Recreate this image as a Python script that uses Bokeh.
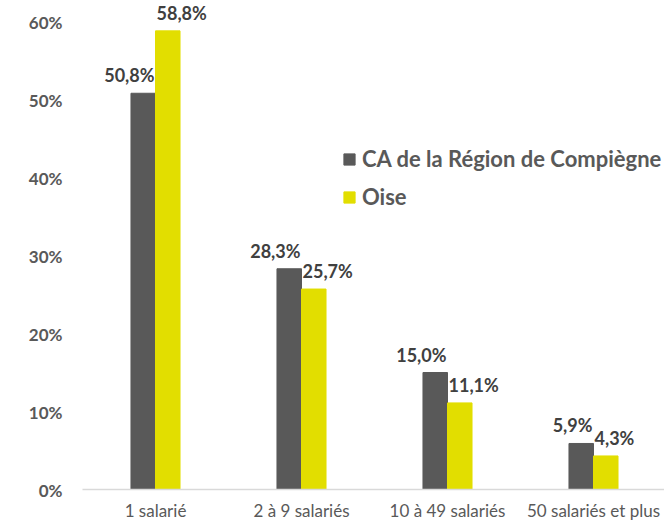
from bokeh.plotting import figure
from bokeh.models import Range1d, ColumnDataSource, LabelSet, Legend, LegendItem
from bokeh.core.properties import value
from bokeh.embed import file_html
from bokeh.resources import INLINE

categories = ["1 salarié", "2 à 9 salariés", "10 à 49 salariés", "50 salariés et plus"]
series_names = ["CA de la Région de Compiègne", "Oise"]
ca_values = [50.8, 28.3, 15.0, 5.9]
oise_values = [58.8, 25.7, 11.1, 4.3]
y_ticks = [0, 10, 20, 30, 40, 50, 60]

GREY = "#595959"
YELLOW = "#E2DE00"
FONT = "Lato"

# layout (pixels): plot area from x=82 to 664, baseline at y=489
PX_PER_CAT = 146
PX_PER_PCT = 7.8
W, H = 664, 523
LEFT, BOTTOM = 82, 34

BAR_W = 0.168
xc = [i + 0.5 for i in range(len(categories))]
x_end = (W - LEFT) / PX_PER_CAT

def fmt(v):
    return f"{v:.1f}".replace(".", ",") + "%"

src_ca = ColumnDataSource(dict(x=[c - BAR_W / 2 for c in xc], xl=xc, top=ca_values,
                               lab=[fmt(v) for v in ca_values]))
src_oise = ColumnDataSource(dict(x=[c + BAR_W / 2 for c in xc], xl=xc, top=oise_values,
                                 lab=[fmt(v) for v in oise_values]))
src_cat = ColumnDataSource(dict(x=xc, y=[0] * len(xc), lab=categories))
src_yt = ColumnDataSource(dict(x=[0] * len(y_ticks), y=y_ticks, lab=[f"{t}%" for t in y_ticks]))

p = figure(width=W, height=H, output_backend="svg", toolbar_location=None,
           x_range=Range1d(-LEFT / PX_PER_CAT, x_end),
           y_range=Range1d(-BOTTOM / PX_PER_PCT, (H - BOTTOM) / PX_PER_PCT),
           min_border_left=0, min_border_right=0, min_border_top=0, min_border_bottom=0)
p.outline_line_color = None
p.xgrid.visible = False
p.ygrid.visible = False
p.xaxis.visible = False
p.yaxis.visible = False
p.background_fill_color = "white"

r1 = p.vbar(x="x", top="top", width=BAR_W, source=src_ca, fill_color=GREY, line_color=GREY)
r2 = p.vbar(x="x", top="top", width=BAR_W, source=src_oise, fill_color=YELLOW, line_color=YELLOW)

# category axis line
p.segment(x0=[0], y0=[0], x1=[x_end], y1=[0], line_color="#D9D9D9", line_width=1.5)

# value labels
lab1 = LabelSet(x="xl", y="top", text="lab", source=src_ca, text_align="right",
                text_baseline="bottom", x_offset=-1, y_offset=7,
                text_font=value(FONT), text_font_style="bold", text_font_size="18px",
                text_color="#404040")
lab2 = LabelSet(x="xl", y="top", text="lab", source=src_oise, text_align="left",
                text_baseline="bottom", x_offset=1, y_offset=7,
                text_font=value(FONT), text_font_style="bold", text_font_size="18px",
                text_color="#404040")
p.add_layout(lab1)
p.add_layout(lab2)

# category tick labels
cat_labels = LabelSet(x="x", y="y", text="lab", source=src_cat, text_align="center",
                      text_baseline="alphabetic", y_offset=-27,
                      text_font=value(FONT), text_font_size="17px", text_color=GREY)
p.add_layout(cat_labels)

# y tick labels
y_labels = LabelSet(x="x", y="y", text="lab", source=src_yt, text_align="right",
                    text_baseline="middle", x_offset=-20, y_offset=-1,
                    text_font=value(FONT), text_font_style="bold", text_font_size="17px",
                    text_color=GREY)
p.add_layout(y_labels)

legend = Legend(items=[LegendItem(label=series_names[0], renderers=[r1]),
                       LegendItem(label=series_names[1], renderers=[r2])],
                location=(342, 313), orientation="vertical",
                glyph_width=14, glyph_height=14, label_height=20, spacing=11,
                label_standoff=6, padding=0, margin=0,
                border_line_color=None, background_fill_alpha=0,
                label_text_font=FONT, label_text_font_style="bold",
                label_text_font_size="22px", label_text_color=GREY)
p.add_layout(legend)

open("out.html", "w").write(file_html(p, INLINE))
